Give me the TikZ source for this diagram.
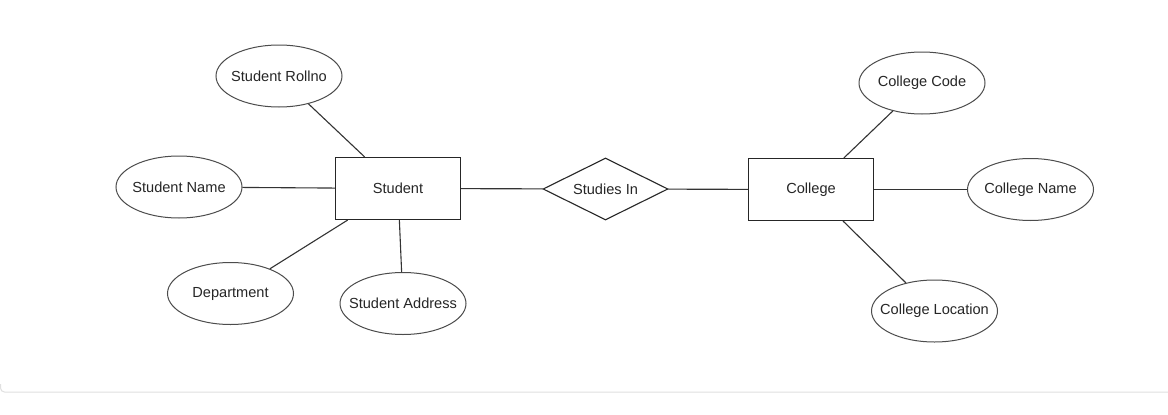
\documentclass[tikz,border=0pt]{standalone}
\usepackage{fontspec}
\setmainfont{Liberation Sans}
\usetikzlibrary{shapes.geometric}
\newcommand{\zw}[1]{\makebox[0pt]{#1}}
\begin{document}
\begin{tikzpicture}[x=1pt,y=-1pt,
  lbl/.style={font=\fontsize{14.6}{17}\selectfont, text=black!85},
  attr/.style={ellipse, draw=black!70, line width=1pt, minimum width=126pt, minimum height=62pt, inner sep=0pt, lbl},
  entity/.style={rectangle, draw=black!85, line width=1.1pt, minimum width=125pt, minimum height=62pt, inner sep=0pt, lbl},
  rel/.style={diamond, draw=black!85, line width=1.1pt, minimum width=125pt, minimum height=62pt, inner sep=0pt, lbl},
  conn/.style={draw=black!80, line width=1.1pt},
  frame/.style={draw=black!12, line width=1pt}]
\fill[white] (0,0) rectangle (1168,415);
\useasboundingbox (0,0) rectangle (1168,415);
% frame edge
\draw[frame] (0.5,384) -- (0.5,388) arc[start angle=180, end angle=270, radius=4pt] -- (1168,392);
% nodes
\node[entity] (student) at (398,188.5) {Student};
\node[rel] (studies) at (605.5,189) {\zw{Studies In}};
\node[entity] (college) at (811,189.5) {College};
\node[attr] (rollno) at (279,76) {\zw{Student Rollno}};
\node[attr] (sname) at (179,187) {\zw{Student Name}};
\node[attr] (dept) at (230.5,293.5) {\zw{Department}};
\node[attr] (saddr) at (403,303.5) {\zw{Student Address}};
\node[attr] (ccode) at (922,83) {\zw{College Code}};
\node[attr] (cname) at (1030.5,189.5) {\zw{College Name}};
\node[attr] (cloc) at (934.5,311) {\zw{College Location}};
% connectors
\draw[conn] (rollno) -- (student);
\draw[conn] (sname) -- (student);
\draw[conn] (dept) -- (student);
\draw[conn] (saddr) -- (student);
\draw[conn] (student) -- (studies);
\draw[conn] (studies) -- (college);
\draw[conn] (ccode) -- (college);
\draw[conn] (cname) -- (college);
\draw[conn] (cloc) -- (college);
\end{tikzpicture}
\end{document}
